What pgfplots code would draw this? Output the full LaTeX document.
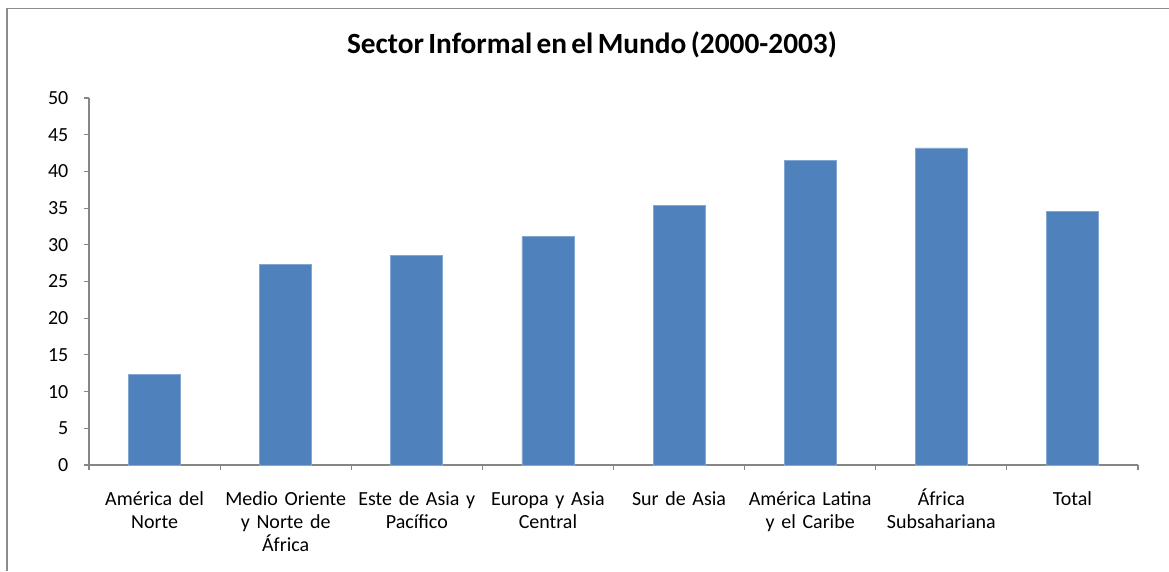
\documentclass[border=0pt]{standalone}
\usepackage{pgfplots}
\pgfplotsset{compat=1.18}
\usepackage{fontspec}
\setmainfont{Carlito}[WordSpace=0.65]
\definecolor{barblue}{HTML}{4F81BD}
\definecolor{axisgray}{HTML}{868686}
\definecolor{framegray}{HTML}{8C8C8C}

\begin{document}
\begin{tikzpicture}
\useasboundingbox (0,0) rectangle (876.75pt,428.25pt);
\draw[framegray, line width=1.2pt] (5.25pt,0) -- (5.25pt,421.9pt) -- (876.75pt,421.9pt);
\node[font=\fontsize{22}{25}\selectfont\bfseries] at (444pt,394.5pt) {Sector Informal en el Mundo (2000-2003)};
\begin{axis}[
    at={(66.75pt,79.5pt)}, anchor=south west,
    scale only axis, width=786.75pt, height=275.25pt,
    ybar, bar width=39pt,
    xmin=-0.5, xmax=7.5, ymin=0, ymax=50,
    ytick={0,5,...,50},
    xtick={0,...,7},
    xticklabels={Am\'erica del\\Norte, Medio Oriente\\y Norte de\\\'Africa, Este de Asia y\\Pac\'ifico, Europa y Asia\\Central, Sur de Asia, Am\'erica Latina\\y el Caribe, \'Africa\\Subsahariana, Total},
    minor xtick={-0.5,0.5,...,7.5},
    axis lines*=left,
    axis line style={axisgray, line width=0.8pt},
    tick align=outside,
    major x tick style={draw=none},
    minor x tick style={axisgray, line width=0.8pt},
    y tick style={axisgray, line width=0.8pt},
    major tick length=4pt, minor tick length=4pt,
    tick label style={font=\fontsize{15}{17.25}\selectfont},
    xticklabel style={align=center, text width=98pt, yshift=-10.5pt, anchor=north,
        execute at begin node={\vphantom{\'A}}},
    yticklabel style={xshift=-8pt},
    /pgf/number format/assume math mode=true,
    clip=false,
]
\addplot[fill=barblue, draw=barblue!70!white, line width=0.5pt] coordinates {
(0,12.3) (1,27.3) (2,28.6) (3,31.1) (4,35.4) (5,41.5) (6,43.2) (7,34.6)};
\end{axis}
\end{tikzpicture}
\end{document}
